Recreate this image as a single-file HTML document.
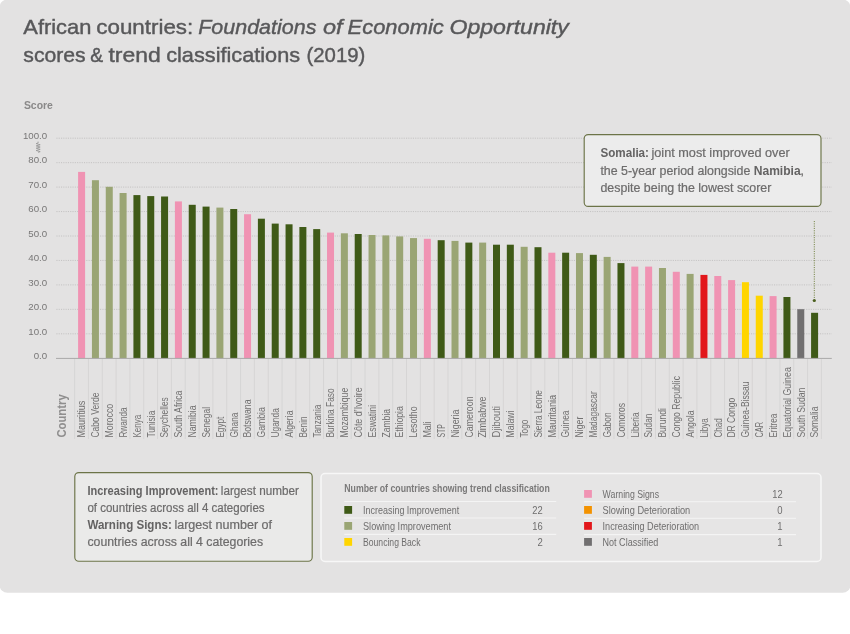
<!DOCTYPE html>
<html lang="en">
<head>
<meta charset="utf-8">
<title>African countries: Foundations of Economic Opportunity scores &amp; trend classifications (2019)</title>
<style>
html,body{margin:0;padding:0;background:#fff;}
body{width:850px;height:634px;overflow:hidden;}
svg{display:block;font-family:"Liberation Sans",Arial,sans-serif;}
.t{font-size:21px;fill:#58585a;stroke:#58585a;stroke-width:0.42px;}
.ax{font-size:9.7px;fill:#787777;text-anchor:end;}
.lab{font-size:10px;fill:#727171;}
.note{font-size:12.5px;fill:#6d6c6c;stroke:#6d6c6c;stroke-width:0.22px;}
.note .b,.b{font-weight:bold;fill:#646363;stroke:none;}
.lg{font-size:10.2px;fill:#6f6e6e;}
.num{font-size:10.2px;fill:#6f6e6e;text-anchor:end;}
</style>
</head>
<body>
<svg width="850" height="634" viewBox="0 0 850 634">
<rect x="-0.5" y="-0.5" width="851" height="593.3" rx="8" ry="8" fill="#e3e2e2"/>
<text class="t" x="23.3" y="34" textLength="68.1" lengthAdjust="spacingAndGlyphs">African</text>
<text class="t" x="96.3" y="34" textLength="96.9" lengthAdjust="spacingAndGlyphs">countries:</text>
<text class="t" x="198.2" y="34" textLength="118.2" lengthAdjust="spacingAndGlyphs" font-style="italic">Foundations</text>
<text class="t" x="322.9" y="34" textLength="19.6" lengthAdjust="spacingAndGlyphs" font-style="italic">of</text>
<text class="t" x="347.6" y="34" textLength="96.1" lengthAdjust="spacingAndGlyphs" font-style="italic">Economic</text>
<text class="t" x="449.5" y="34" textLength="119.3" lengthAdjust="spacingAndGlyphs" font-style="italic">Opportunity</text>
<text class="t" x="23.3" y="61.7" textLength="62.4" lengthAdjust="spacingAndGlyphs">scores</text>
<text class="t" x="90.2" y="61.7" textLength="12.9" lengthAdjust="spacingAndGlyphs">&amp;</text>
<text class="t" x="108.5" y="61.7" textLength="52.3" lengthAdjust="spacingAndGlyphs">trend</text>
<text class="t" x="166.2" y="61.7" textLength="133.9" lengthAdjust="spacingAndGlyphs">classifications</text>
<text class="t" x="306.5" y="61.7" textLength="58.8" lengthAdjust="spacingAndGlyphs">(2019)</text>
<text x="23.9" y="108.7" font-size="11px" font-weight="bold" fill="#8a8989" textLength="29" lengthAdjust="spacingAndGlyphs">Score</text>
<g stroke="#c1c0c0" stroke-width="0.9" stroke-dasharray="1.1 1.2" fill="none">
<line x1="56.4" y1="138.20" x2="831.8" y2="138.20"/>
<line x1="56.4" y1="162.65" x2="831.8" y2="162.65"/>
<line x1="56.4" y1="187.10" x2="831.8" y2="187.10"/>
<line x1="56.4" y1="211.55" x2="831.8" y2="211.55"/>
<line x1="56.4" y1="236.00" x2="831.8" y2="236.00"/>
<line x1="56.4" y1="260.45" x2="831.8" y2="260.45"/>
<line x1="56.4" y1="284.90" x2="831.8" y2="284.90"/>
<line x1="56.4" y1="309.35" x2="831.8" y2="309.35"/>
<line x1="56.4" y1="333.80" x2="831.8" y2="333.80"/>
</g>
<text class="ax" x="47.2" y="138.90">100.0</text>
<text class="ax" x="47.2" y="163.35">80.0</text>
<text class="ax" x="47.2" y="187.80">70.0</text>
<text class="ax" x="47.2" y="212.25">60.0</text>
<text class="ax" x="47.2" y="236.70">50.0</text>
<text class="ax" x="47.2" y="261.15">40.0</text>
<text class="ax" x="47.2" y="285.60">30.0</text>
<text class="ax" x="47.2" y="310.05">20.0</text>
<text class="ax" x="47.2" y="334.50">10.0</text>
<text class="ax" x="47.2" y="359.10">0.0</text>
<polyline fill="none" stroke="#8a8989" stroke-width="0.7" points="38.1,141.60 38.1,143.00 36.2,143.60 40.2,144.75 36.2,145.90 40.2,147.05 36.2,148.20 40.2,149.35 36.2,150.50 40.2,151.65 38.1,152.40"/>
<g stroke="#d6d5d5" stroke-width="1">
<line x1="74.60" y1="358.9" x2="74.60" y2="439"/>
<line x1="88.43" y1="358.9" x2="88.43" y2="439"/>
<line x1="102.26" y1="358.9" x2="102.26" y2="439"/>
<line x1="116.09" y1="358.9" x2="116.09" y2="439"/>
<line x1="129.92" y1="358.9" x2="129.92" y2="439"/>
<line x1="143.75" y1="358.9" x2="143.75" y2="439"/>
<line x1="157.58" y1="358.9" x2="157.58" y2="439"/>
<line x1="171.41" y1="358.9" x2="171.41" y2="439"/>
<line x1="185.24" y1="358.9" x2="185.24" y2="439"/>
<line x1="199.07" y1="358.9" x2="199.07" y2="439"/>
<line x1="212.90" y1="358.9" x2="212.90" y2="439"/>
<line x1="226.73" y1="358.9" x2="226.73" y2="439"/>
<line x1="240.56" y1="358.9" x2="240.56" y2="439"/>
<line x1="254.39" y1="358.9" x2="254.39" y2="439"/>
<line x1="268.22" y1="358.9" x2="268.22" y2="439"/>
<line x1="282.05" y1="358.9" x2="282.05" y2="439"/>
<line x1="295.88" y1="358.9" x2="295.88" y2="439"/>
<line x1="309.71" y1="358.9" x2="309.71" y2="439"/>
<line x1="323.54" y1="358.9" x2="323.54" y2="439"/>
<line x1="337.37" y1="358.9" x2="337.37" y2="439"/>
<line x1="351.20" y1="358.9" x2="351.20" y2="439"/>
<line x1="365.03" y1="358.9" x2="365.03" y2="439"/>
<line x1="378.86" y1="358.9" x2="378.86" y2="439"/>
<line x1="392.69" y1="358.9" x2="392.69" y2="439"/>
<line x1="406.52" y1="358.9" x2="406.52" y2="439"/>
<line x1="420.35" y1="358.9" x2="420.35" y2="439"/>
<line x1="434.18" y1="358.9" x2="434.18" y2="439"/>
<line x1="448.01" y1="358.9" x2="448.01" y2="439"/>
<line x1="461.84" y1="358.9" x2="461.84" y2="439"/>
<line x1="475.67" y1="358.9" x2="475.67" y2="439"/>
<line x1="489.50" y1="358.9" x2="489.50" y2="439"/>
<line x1="503.33" y1="358.9" x2="503.33" y2="439"/>
<line x1="517.16" y1="358.9" x2="517.16" y2="439"/>
<line x1="530.99" y1="358.9" x2="530.99" y2="439"/>
<line x1="544.82" y1="358.9" x2="544.82" y2="439"/>
<line x1="558.65" y1="358.9" x2="558.65" y2="439"/>
<line x1="572.48" y1="358.9" x2="572.48" y2="439"/>
<line x1="586.31" y1="358.9" x2="586.31" y2="439"/>
<line x1="600.14" y1="358.9" x2="600.14" y2="439"/>
<line x1="613.97" y1="358.9" x2="613.97" y2="439"/>
<line x1="627.80" y1="358.9" x2="627.80" y2="439"/>
<line x1="641.63" y1="358.9" x2="641.63" y2="439"/>
<line x1="655.46" y1="358.9" x2="655.46" y2="439"/>
<line x1="669.29" y1="358.9" x2="669.29" y2="439"/>
<line x1="683.12" y1="358.9" x2="683.12" y2="439"/>
<line x1="696.95" y1="358.9" x2="696.95" y2="439"/>
<line x1="710.78" y1="358.9" x2="710.78" y2="439"/>
<line x1="724.61" y1="358.9" x2="724.61" y2="439"/>
<line x1="738.44" y1="358.9" x2="738.44" y2="439"/>
<line x1="752.27" y1="358.9" x2="752.27" y2="439"/>
<line x1="766.10" y1="358.9" x2="766.10" y2="439"/>
<line x1="779.93" y1="358.9" x2="779.93" y2="439"/>
<line x1="793.76" y1="358.9" x2="793.76" y2="439"/>
<line x1="807.59" y1="358.9" x2="807.59" y2="439"/>
<line x1="821.42" y1="358.9" x2="821.42" y2="439"/>
</g>
<rect x="78.10" y="171.9" width="7" height="186.5" fill="#f093b3"/>
<rect x="91.93" y="180.2" width="7" height="178.2" fill="#9aa574"/>
<rect x="105.76" y="186.8" width="7" height="171.6" fill="#9aa574"/>
<rect x="119.59" y="193.0" width="7" height="165.4" fill="#9aa574"/>
<rect x="133.42" y="195.1" width="7" height="163.3" fill="#3f5a17"/>
<rect x="147.25" y="196.1" width="7" height="162.3" fill="#3f5a17"/>
<rect x="161.08" y="196.5" width="7" height="161.9" fill="#3f5a17"/>
<rect x="174.91" y="201.4" width="7" height="157.0" fill="#f093b3"/>
<rect x="188.74" y="204.8" width="7" height="153.6" fill="#3f5a17"/>
<rect x="202.57" y="206.6" width="7" height="151.8" fill="#3f5a17"/>
<rect x="216.40" y="207.6" width="7" height="150.8" fill="#9aa574"/>
<rect x="230.23" y="209.0" width="7" height="149.4" fill="#3f5a17"/>
<rect x="244.06" y="214.2" width="7" height="144.2" fill="#f093b3"/>
<rect x="257.89" y="218.7" width="7" height="139.7" fill="#3f5a17"/>
<rect x="271.72" y="223.6" width="7" height="134.8" fill="#3f5a17"/>
<rect x="285.55" y="224.3" width="7" height="134.1" fill="#3f5a17"/>
<rect x="299.38" y="227.0" width="7" height="131.4" fill="#3f5a17"/>
<rect x="313.21" y="229.1" width="7" height="129.3" fill="#3f5a17"/>
<rect x="327.04" y="232.6" width="7" height="125.8" fill="#f093b3"/>
<rect x="340.87" y="233.3" width="7" height="125.1" fill="#9aa574"/>
<rect x="354.70" y="234.0" width="7" height="124.4" fill="#3f5a17"/>
<rect x="368.53" y="235.0" width="7" height="123.4" fill="#9aa574"/>
<rect x="382.36" y="235.4" width="7" height="123.0" fill="#9aa574"/>
<rect x="396.19" y="236.4" width="7" height="122.0" fill="#9aa574"/>
<rect x="410.02" y="238.1" width="7" height="120.3" fill="#9aa574"/>
<rect x="423.85" y="238.8" width="7" height="119.6" fill="#f093b3"/>
<rect x="437.68" y="240.2" width="7" height="118.2" fill="#3f5a17"/>
<rect x="451.51" y="240.9" width="7" height="117.5" fill="#9aa574"/>
<rect x="465.34" y="242.6" width="7" height="115.8" fill="#3f5a17"/>
<rect x="479.17" y="242.6" width="7" height="115.8" fill="#9aa574"/>
<rect x="493.00" y="244.7" width="7" height="113.7" fill="#3f5a17"/>
<rect x="506.83" y="244.7" width="7" height="113.7" fill="#3f5a17"/>
<rect x="520.66" y="246.8" width="7" height="111.6" fill="#9aa574"/>
<rect x="534.49" y="247.2" width="7" height="111.2" fill="#3f5a17"/>
<rect x="548.32" y="252.7" width="7" height="105.7" fill="#f093b3"/>
<rect x="562.15" y="252.7" width="7" height="105.7" fill="#3f5a17"/>
<rect x="575.98" y="253.1" width="7" height="105.3" fill="#9aa574"/>
<rect x="589.81" y="254.8" width="7" height="103.6" fill="#3f5a17"/>
<rect x="603.64" y="256.9" width="7" height="101.5" fill="#9aa574"/>
<rect x="617.47" y="263.1" width="7" height="95.3" fill="#3f5a17"/>
<rect x="631.30" y="266.6" width="7" height="91.8" fill="#f093b3"/>
<rect x="645.13" y="266.6" width="7" height="91.8" fill="#f093b3"/>
<rect x="658.96" y="268.0" width="7" height="90.4" fill="#9aa574"/>
<rect x="672.79" y="271.8" width="7" height="86.6" fill="#f093b3"/>
<rect x="686.62" y="273.9" width="7" height="84.5" fill="#9aa574"/>
<rect x="700.45" y="274.9" width="7" height="83.5" fill="#e2171b"/>
<rect x="714.28" y="276.0" width="7" height="82.4" fill="#f093b3"/>
<rect x="728.11" y="280.1" width="7" height="78.3" fill="#f093b3"/>
<rect x="741.94" y="282.2" width="7" height="76.2" fill="#ffd500"/>
<rect x="755.77" y="295.7" width="7" height="62.7" fill="#ffd500"/>
<rect x="769.60" y="296.1" width="7" height="62.3" fill="#f093b3"/>
<rect x="783.43" y="297.0" width="7" height="61.4" fill="#3f5a17"/>
<rect x="797.26" y="309.2" width="7" height="49.2" fill="#716f70"/>
<rect x="811.09" y="312.8" width="7" height="45.6" fill="#3f5a17"/>
<line x1="56" y1="358.4" x2="831.8" y2="358.4" stroke="#a9a8a8" stroke-width="1"/>
<text transform="translate(66.3 437.6) rotate(-90)" font-size="12.5px" font-weight="bold" fill="#8f8e8e" textLength="43.3" lengthAdjust="spacingAndGlyphs">Country</text>
<text class="lab" transform="translate(85.40 437.6) rotate(-90)" textLength="36.9" lengthAdjust="spacingAndGlyphs">Mauritius</text>
<text class="lab" transform="translate(99.23 437.6) rotate(-90)" textLength="45.1" lengthAdjust="spacingAndGlyphs">Cabo Verde</text>
<text class="lab" transform="translate(113.06 437.6) rotate(-90)" textLength="33.8" lengthAdjust="spacingAndGlyphs">Morocco</text>
<text class="lab" transform="translate(126.89 437.6) rotate(-90)" textLength="30.3" lengthAdjust="spacingAndGlyphs">Rwanda</text>
<text class="lab" transform="translate(140.72 437.6) rotate(-90)" textLength="22.8" lengthAdjust="spacingAndGlyphs">Kenya</text>
<text class="lab" transform="translate(154.55 437.6) rotate(-90)" textLength="27.0" lengthAdjust="spacingAndGlyphs">Tunisia</text>
<text class="lab" transform="translate(168.38 437.6) rotate(-90)" textLength="40.4" lengthAdjust="spacingAndGlyphs">Seychelles</text>
<text class="lab" transform="translate(182.21 437.6) rotate(-90)" textLength="47.0" lengthAdjust="spacingAndGlyphs">South Africa</text>
<text class="lab" transform="translate(196.04 437.6) rotate(-90)" textLength="32.2" lengthAdjust="spacingAndGlyphs">Namibia</text>
<text class="lab" transform="translate(209.87 437.6) rotate(-90)" textLength="30.6" lengthAdjust="spacingAndGlyphs">Senegal</text>
<text class="lab" transform="translate(223.70 437.6) rotate(-90)" textLength="20.9" lengthAdjust="spacingAndGlyphs">Egypt</text>
<text class="lab" transform="translate(237.53 437.6) rotate(-90)" textLength="25.1" lengthAdjust="spacingAndGlyphs">Ghana</text>
<text class="lab" transform="translate(251.36 437.6) rotate(-90)" textLength="38.1" lengthAdjust="spacingAndGlyphs">Botswana</text>
<text class="lab" transform="translate(265.19 437.6) rotate(-90)" textLength="30.4" lengthAdjust="spacingAndGlyphs">Gambia</text>
<text class="lab" transform="translate(279.02 437.6) rotate(-90)" textLength="29.4" lengthAdjust="spacingAndGlyphs">Uganda</text>
<text class="lab" transform="translate(292.85 437.6) rotate(-90)" textLength="27.1" lengthAdjust="spacingAndGlyphs">Algeria</text>
<text class="lab" transform="translate(306.68 437.6) rotate(-90)" textLength="21.2" lengthAdjust="spacingAndGlyphs">Benin</text>
<text class="lab" transform="translate(320.51 437.6) rotate(-90)" textLength="32.9" lengthAdjust="spacingAndGlyphs">Tanzania</text>
<text class="lab" transform="translate(334.34 437.6) rotate(-90)" textLength="49.2" lengthAdjust="spacingAndGlyphs">Burkina Faso</text>
<text class="lab" transform="translate(348.17 437.6) rotate(-90)" textLength="49.9" lengthAdjust="spacingAndGlyphs">Mozambique</text>
<text class="lab" transform="translate(362.00 437.6) rotate(-90)" textLength="50.4" lengthAdjust="spacingAndGlyphs">Côte d’Ivoire</text>
<text class="lab" transform="translate(375.83 437.6) rotate(-90)" textLength="32.7" lengthAdjust="spacingAndGlyphs">Eswatini</text>
<text class="lab" transform="translate(389.66 437.6) rotate(-90)" textLength="28.7" lengthAdjust="spacingAndGlyphs">Zambia</text>
<text class="lab" transform="translate(403.49 437.6) rotate(-90)" textLength="31.5" lengthAdjust="spacingAndGlyphs">Ethiopia</text>
<text class="lab" transform="translate(417.32 437.6) rotate(-90)" textLength="31.1" lengthAdjust="spacingAndGlyphs">Lesotho</text>
<text class="lab" transform="translate(431.15 437.6) rotate(-90)" textLength="16.2" lengthAdjust="spacingAndGlyphs">Mali</text>
<text class="lab" transform="translate(444.98 437.6) rotate(-90)" textLength="13.4" lengthAdjust="spacingAndGlyphs">STP</text>
<text class="lab" transform="translate(458.81 437.6) rotate(-90)" textLength="28.0" lengthAdjust="spacingAndGlyphs">Nigeria</text>
<text class="lab" transform="translate(472.64 437.6) rotate(-90)" textLength="41.2" lengthAdjust="spacingAndGlyphs">Cameroon</text>
<text class="lab" transform="translate(486.47 437.6) rotate(-90)" textLength="41.2" lengthAdjust="spacingAndGlyphs">Zimbabwe</text>
<text class="lab" transform="translate(500.30 437.6) rotate(-90)" textLength="31.5" lengthAdjust="spacingAndGlyphs">Djibouti</text>
<text class="lab" transform="translate(514.13 437.6) rotate(-90)" textLength="27.1" lengthAdjust="spacingAndGlyphs">Malawi</text>
<text class="lab" transform="translate(527.96 437.6) rotate(-90)" textLength="18.1" lengthAdjust="spacingAndGlyphs">Togo</text>
<text class="lab" transform="translate(541.79 437.6) rotate(-90)" textLength="47.5" lengthAdjust="spacingAndGlyphs">Sierra Leone</text>
<text class="lab" transform="translate(555.62 437.6) rotate(-90)" textLength="42.8" lengthAdjust="spacingAndGlyphs">Mauritania</text>
<text class="lab" transform="translate(569.45 437.6) rotate(-90)" textLength="27.1" lengthAdjust="spacingAndGlyphs">Guinea</text>
<text class="lab" transform="translate(583.28 437.6) rotate(-90)" textLength="20.9" lengthAdjust="spacingAndGlyphs">Niger</text>
<text class="lab" transform="translate(597.11 437.6) rotate(-90)" textLength="46.4" lengthAdjust="spacingAndGlyphs">Madagascar</text>
<text class="lab" transform="translate(610.94 437.6) rotate(-90)" textLength="25.2" lengthAdjust="spacingAndGlyphs">Gabon</text>
<text class="lab" transform="translate(624.77 437.6) rotate(-90)" textLength="34.6" lengthAdjust="spacingAndGlyphs">Comoros</text>
<text class="lab" transform="translate(638.60 437.6) rotate(-90)" textLength="25.2" lengthAdjust="spacingAndGlyphs">Liberia</text>
<text class="lab" transform="translate(652.43 437.6) rotate(-90)" textLength="24.0" lengthAdjust="spacingAndGlyphs">Sudan</text>
<text class="lab" transform="translate(666.26 437.6) rotate(-90)" textLength="29.4" lengthAdjust="spacingAndGlyphs">Burundi</text>
<text class="lab" transform="translate(680.09 437.6) rotate(-90)" textLength="61.6" lengthAdjust="spacingAndGlyphs">Congo Republic</text>
<text class="lab" transform="translate(693.92 437.6) rotate(-90)" textLength="27.1" lengthAdjust="spacingAndGlyphs">Angola</text>
<text class="lab" transform="translate(707.75 437.6) rotate(-90)" textLength="19.3" lengthAdjust="spacingAndGlyphs">Libya</text>
<text class="lab" transform="translate(721.58 437.6) rotate(-90)" textLength="19.3" lengthAdjust="spacingAndGlyphs">Chad</text>
<text class="lab" transform="translate(735.41 437.6) rotate(-90)" textLength="39.8" lengthAdjust="spacingAndGlyphs">DR Congo</text>
<text class="lab" transform="translate(749.24 437.6) rotate(-90)" textLength="56.2" lengthAdjust="spacingAndGlyphs">Guinea-Bissau</text>
<text class="lab" transform="translate(763.07 437.6) rotate(-90)" textLength="15.8" lengthAdjust="spacingAndGlyphs">CAR</text>
<text class="lab" transform="translate(776.90 437.6) rotate(-90)" textLength="24.0" lengthAdjust="spacingAndGlyphs">Eritrea</text>
<text class="lab" transform="translate(790.73 437.6) rotate(-90)" textLength="70.4" lengthAdjust="spacingAndGlyphs">Equatorial Guinea</text>
<text class="lab" transform="translate(804.56 437.6) rotate(-90)" textLength="49.9" lengthAdjust="spacingAndGlyphs">South Sudan</text>
<text class="lab" transform="translate(818.39 437.6) rotate(-90)" textLength="31.1" lengthAdjust="spacingAndGlyphs">Somalia</text>
<rect x="584.2" y="134.6" width="236.8" height="71.8" rx="4" fill="#ececec" stroke="#6c7448" stroke-width="1.15"/>
<text class="note b" x="600.4" y="157.4" textLength="48.6" lengthAdjust="spacingAndGlyphs">Somalia:</text>
<text class="note" x="651.5" y="157.4" textLength="138.2" lengthAdjust="spacingAndGlyphs">joint most improved over</text>
<text class="note" x="600.4" y="174.8" textLength="150.0" lengthAdjust="spacingAndGlyphs">the 5-year period alongside</text>
<text class="note b" x="753.7" y="174.8" textLength="47.0" lengthAdjust="spacingAndGlyphs">Namibia</text>
<text class="note" x="800.3" y="174.8" textLength="3.8" lengthAdjust="spacingAndGlyphs">,</text>
<text class="note" x="600.4" y="192.1" textLength="171.0" lengthAdjust="spacingAndGlyphs">despite being the lowest scorer</text>
<line x1="814.3" y1="221" x2="814.3" y2="299" stroke="#6a7a35" stroke-width="0.9" stroke-dasharray="1.1 1.2"/>
<circle cx="814.3" cy="300.5" r="1.6" fill="#4a5f1d"/>
<rect x="74.8" y="472.6" width="237.4" height="88.6" rx="4" fill="#eaeae9" stroke="#6c7448" stroke-width="1.15"/>
<text class="note b" x="87.4" y="494.9" textLength="131.1" lengthAdjust="spacingAndGlyphs">Increasing Improvement:</text>
<text class="note" x="220.8" y="494.9" textLength="78.0" lengthAdjust="spacingAndGlyphs">largest number</text>
<text class="note" x="87.4" y="511.8" textLength="177.2" lengthAdjust="spacingAndGlyphs">of countries across all 4 categories</text>
<text class="note b" x="87.4" y="528.9" textLength="84.4" lengthAdjust="spacingAndGlyphs">Warning Signs:</text>
<text class="note" x="174.4" y="528.9" textLength="97.7" lengthAdjust="spacingAndGlyphs">largest number of</text>
<text class="note" x="87.4" y="545.8" textLength="175.7" lengthAdjust="spacingAndGlyphs">countries across all 4 categories</text>
<rect x="321" y="473.6" width="500" height="87.8" rx="4" fill="#e6e5e5" stroke="#f7f7f7" stroke-width="1.5"/>
<text x="344.3" y="491.8" font-size="10px" font-weight="bold" fill="#7a7979" textLength="205.5" lengthAdjust="spacingAndGlyphs">Number of countries showing trend classification</text>
<g stroke="#f4f4f4" stroke-width="1.1">
<line x1="344.3" y1="501.5" x2="556.2" y2="501.5"/>
<line x1="584.1" y1="501.7" x2="796" y2="501.7"/>
<line x1="344.3" y1="518.0" x2="556.2" y2="518.0"/>
<line x1="584.1" y1="518.2" x2="796" y2="518.2"/>
<line x1="344.3" y1="534.4" x2="556.2" y2="534.4"/>
<line x1="584.1" y1="534.6" x2="796" y2="534.6"/>
</g>
<rect x="344.3" y="506.0" width="7.8" height="7.8" fill="#3f5a17"/>
<text class="lg" x="363" y="514.0" textLength="96.2" lengthAdjust="spacingAndGlyphs">Increasing Improvement</text>
<text class="num" x="542.7" y="514.0" textLength="10.4" lengthAdjust="spacingAndGlyphs">22</text>
<rect x="344.3" y="522.0" width="7.8" height="7.8" fill="#9aa574"/>
<text class="lg" x="363" y="530.0" textLength="88.0" lengthAdjust="spacingAndGlyphs">Slowing Improvement</text>
<text class="num" x="542.7" y="530.0" textLength="10.4" lengthAdjust="spacingAndGlyphs">16</text>
<rect x="344.3" y="538.0" width="7.8" height="7.8" fill="#ffd500"/>
<text class="lg" x="363" y="546.0" textLength="57.5" lengthAdjust="spacingAndGlyphs">Bouncing Back</text>
<text class="num" x="542.7" y="546.0" textLength="5.3" lengthAdjust="spacingAndGlyphs">2</text>
<rect x="584.1" y="490.0" width="7.8" height="7.8" fill="#f093b3"/>
<text class="lg" x="602.6" y="498.0" textLength="56.5" lengthAdjust="spacingAndGlyphs">Warning Signs</text>
<text class="num" x="782.6" y="498.0" textLength="10.4" lengthAdjust="spacingAndGlyphs">12</text>
<rect x="584.1" y="506.0" width="7.8" height="7.8" fill="#f39200"/>
<text class="lg" x="602.6" y="514.0" textLength="87.6" lengthAdjust="spacingAndGlyphs">Slowing Deterioration</text>
<text class="num" x="782.6" y="514.0" textLength="5.3" lengthAdjust="spacingAndGlyphs">0</text>
<rect x="584.1" y="522.0" width="7.8" height="7.8" fill="#e2171b"/>
<text class="lg" x="602.6" y="530.0" textLength="96.6" lengthAdjust="spacingAndGlyphs">Increasing Deterioration</text>
<text class="num" x="782.6" y="530.0" textLength="5.3" lengthAdjust="spacingAndGlyphs">1</text>
<rect x="584.1" y="538.0" width="7.8" height="7.8" fill="#716f70"/>
<text class="lg" x="602.6" y="546.0" textLength="55.6" lengthAdjust="spacingAndGlyphs">Not Classified</text>
<text class="num" x="782.6" y="546.0" textLength="5.3" lengthAdjust="spacingAndGlyphs">1</text>
</svg>
</body>
</html>
